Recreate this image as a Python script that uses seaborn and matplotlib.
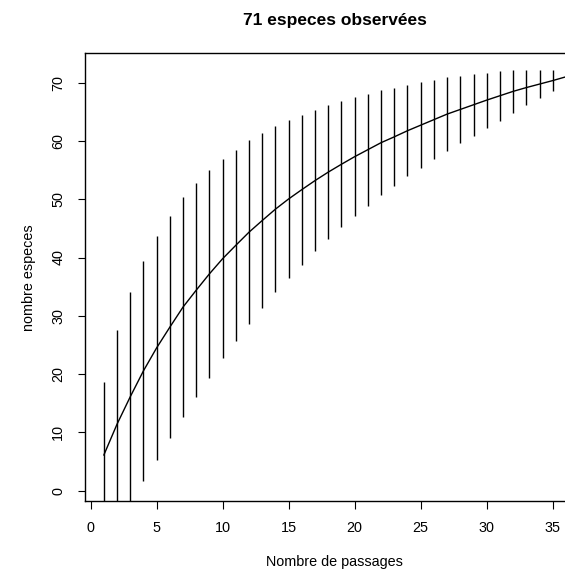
import numpy as np
import pandas as pd
import seaborn as sns
import matplotlib
matplotlib.use("Agg")
import matplotlib.pyplot as plt

# valeurs (courbe d'accumulation)
passages = list(range(1, 37))
moyenne = [6.1, 11.4, 16.1, 20.55, 24.5, 28.05, 31.5, 34.4, 37.2, 39.8,
           42.1, 44.35, 46.35, 48.3, 50.05, 51.65, 53.2, 54.65, 56.0, 57.3,
           58.5, 59.7, 60.7, 61.75, 62.7, 63.65, 64.6, 65.4, 66.2, 67.0,
           67.75, 68.5, 69.15, 69.75, 70.35, 71.0]
borne_haute = [18.6, 27.6, 34.1, 39.4, 43.7, 47.1, 50.3, 52.7, 55.0, 56.9,
               58.5, 60.1, 61.3, 62.6, 63.6, 64.5, 65.3, 66.1, 66.8, 67.5,
               68.1, 68.7, 69.1, 69.6, 70.1, 70.4, 70.9, 71.1, 71.5, 71.7,
               72.0, 72.1, 72.1, 72.1, 72.1, 71.0]
borne_basse = [-6.4, -4.8, -1.9, 1.7, 5.3, 9.0, 12.7, 16.1, 19.4, 22.7,
               25.7, 28.6, 31.4, 34.0, 36.5, 38.8, 41.1, 43.2, 45.2, 47.2,
               48.9, 50.7, 52.3, 53.9, 55.3, 56.9, 58.3, 59.7, 60.9, 62.3,
               63.5, 64.8, 66.1, 67.4, 68.6, 71.0]

df = pd.DataFrame({"passages": passages, "especes": moyenne,
                   "bas": borne_basse, "haut": borne_haute})

sns.set_style("ticks")
plt.rcParams['font.family'] = ['Liberation Sans', 'DejaVu Sans']
plt.rcParams['text.color'] = 'black'
plt.rcParams['axes.labelcolor'] = 'black'
plt.rcParams['xtick.color'] = 'black'
plt.rcParams['ytick.color'] = 'black'

fig = plt.figure(figsize=(5.65, 5.73), dpi=100)
# la boite du graphique depasse a droite comme sur l'image d'origine
ax = fig.add_axes([0.151, 0.1251, 0.8834, 0.7820])

ax.vlines(df["passages"], df["bas"], df["haut"], color="black", linewidth=1)
sns.lineplot(data=df, x="passages", y="especes", color="black", linewidth=1, ax=ax)

ax.set_xlim(-0.4, 37.4)
ax.set_ylim(-1.82, 75.04)
ax.set_xticks(range(0, 36, 5))
ax.set_yticks(range(0, 71, 10))
for s in ax.spines.values():
    s.set_visible(True)
    s.set_linewidth(1)
    s.set_color("black")
ax.tick_params(direction="out", length=5.4, width=0.8, labelsize=10.4, pad=9)
plt.setp(ax.get_yticklabels(), rotation=90, va="center")

ax.set_xlabel("Nombre de passages", fontsize=10.4, labelpad=14)
ax.set_ylabel("nombre especes", fontsize=10.4, labelpad=11)
ax.set_title("71 especes observées", fontsize=12.5, fontweight="bold", pad=20,
             x=(334.9 - 85.3) / (0.8834 * 565))

fig.savefig("out.png", dpi=100)
